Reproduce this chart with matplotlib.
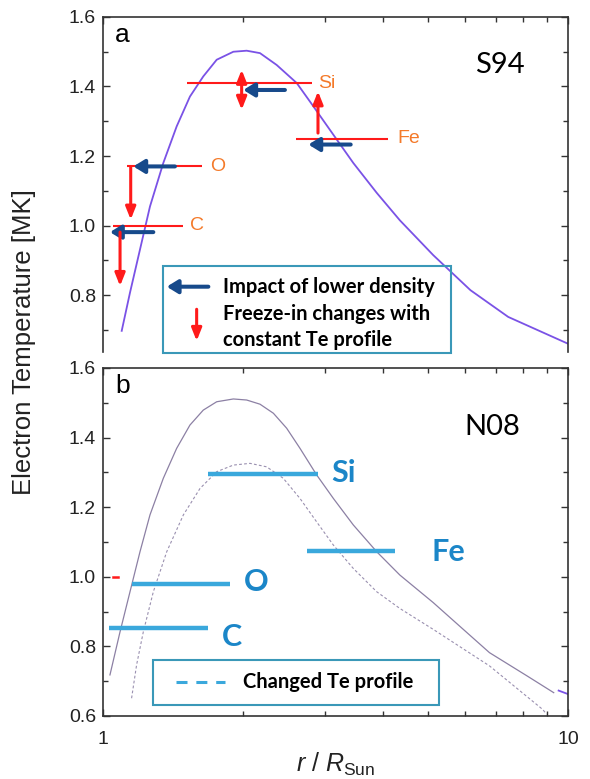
# Te profiles (S94 / N08) with freeze-in positions of C, O, Si, Fe
import matplotlib
matplotlib.use("Agg")
import matplotlib.pyplot as plt
from matplotlib.ticker import MultipleLocator, FuncFormatter, NullFormatter, LogLocator
from matplotlib.patches import Rectangle

plt.rcParams['font.family'] = ['Liberation Sans', 'DejaVu Sans']
plt.rcParams['mathtext.fontset'] = 'custom'
plt.rcParams['mathtext.rm'] = 'Liberation Sans'
plt.rcParams['mathtext.it'] = 'Liberation Sans:italic'

# --- panel a : S94 electron temperature profile ---
r_a = [1.097, 1.143, 1.201, 1.262, 1.348, 1.440, 1.538, 1.643, 1.756, 1.907, 2.037,
       2.176, 2.363, 2.61, 2.834, 3.13, 3.454, 3.879, 4.35, 5.13, 5.6, 6.17, 7.44, 10.0]
te_a = [0.697, 0.807, 0.931, 1.055, 1.180, 1.285, 1.371, 1.429, 1.477, 1.500, 1.503,
        1.496, 1.462, 1.410, 1.343, 1.261, 1.180, 1.094, 1.015, 0.915, 0.867, 0.814,
        0.737, 0.66]

# freeze-in levels (red lines) for panel a
el_a = ['C', 'O', 'Si', 'Fe']
el_a_r0 = [1.052, 1.124, 1.514, 2.60]
el_a_r1 = [1.489, 1.63, 2.815, 4.11]
el_a_te = [1.00, 1.170, 1.410, 1.249]
el_a_lab_r = [1.542, 1.699, 2.904, 4.29]

# blue arrows: impact of lower density (tail r, head r, Te)
dens_tail = [1.283, 1.428, 2.462, 3.41]
dens_head = [1.035, 1.162, 2.003, 2.765]
dens_te = [0.981, 1.170, 1.390, 1.233]

# red arrows: freeze-in changes (r, Te start, Te end)
frz_r = [1.088, 1.147, 2.90]
frz_t0 = [0.981, 1.170, 1.266]
frz_t1 = [0.826, 1.017, 1.386]
si_dbl_r = 1.987
si_dbl_te = (1.333, 1.448)

# --- panel b : N08 profile and changed profile ---
r_b = [1.035, 1.088, 1.143, 1.201, 1.262, 1.348, 1.440, 1.538, 1.643, 1.756, 1.907,
       2.037, 2.176, 2.325, 2.483, 2.653, 2.88, 3.13, 3.454, 3.879, 4.35, 5.13, 5.84,
       6.78, 8.17, 9.32]
te_b = [0.718, 0.842, 0.957, 1.072, 1.178, 1.283, 1.369, 1.436, 1.479, 1.503, 1.511,
        1.508, 1.496, 1.470, 1.427, 1.369, 1.293, 1.225, 1.149, 1.072, 1.005, 0.926,
        0.859, 0.782, 0.715, 0.667]
r_bc = [1.152, 1.181, 1.221, 1.283, 1.371, 1.489, 1.617, 1.756, 1.907, 2.071, 2.249,
        2.442, 2.653, 2.88, 3.13, 3.454, 3.879, 4.35, 5.13, 6.78, 8.82, 9.0]
te_bc = [0.651, 0.747, 0.842, 0.957, 1.072, 1.178, 1.254, 1.302, 1.321, 1.326, 1.316,
         1.283, 1.225, 1.158, 1.091, 1.024, 0.957, 0.909, 0.849, 0.744, 0.619, 0.605]

el_b = ['C', 'O', 'Si', 'Fe']
el_b_r0 = [1.032, 1.152, 1.685, 2.75]
el_b_r1 = [1.685, 1.876, 2.904, 4.25]
el_b_te = [0.854, 0.979, 1.295, 1.074]
el_b_lab_r = [1.80, 2.01, 3.10, 5.08]
el_b_lab_te = [0.828, 0.986, 1.297, 1.07]

RED = '#ff1a1a'
ORANGE = '#f47a2a'
NAVY = '#174a8b'
PURPLE = '#7a52e6'
LBLUE = '#3aa8dc'
TBLUE = '#1b86c8'
BOX = '#3a98b8'
SPINE = '#333333'

fig = plt.figure(figsize=(5.9, 7.79), dpi=100)
ax1 = fig.add_axes([0.1746, 0.5481, 0.788, 0.4301])
ax2 = fig.add_axes([0.1746, 0.0809, 0.788, 0.4467])

for ax in (ax1, ax2):
    ax.set_xscale('log')
    ax.set_xlim(1, 10)
    ax.yaxis.set_major_locator(MultipleLocator(0.2))
    ax.yaxis.set_minor_locator(MultipleLocator(0.1))
    ax.yaxis.set_major_formatter(FuncFormatter(lambda v, p: '%.1f' % v))
    ax.xaxis.set_major_locator(LogLocator(base=10, numticks=5))
    ax.xaxis.set_minor_locator(LogLocator(base=10, subs=range(2, 10), numticks=20))
    ax.xaxis.set_major_formatter(FuncFormatter(lambda v, p: '%g' % v))
    ax.xaxis.set_minor_formatter(NullFormatter())
    ax.tick_params(which='both', direction='in', top=True, right=True,
                   color=SPINE, width=1.0, labelsize=14, labelcolor='#222222')
    ax.tick_params(which='major', length=5)
    ax.tick_params(which='minor', length=3.5)
    ax.tick_params(axis='y', pad=5)
    ax.tick_params(axis='x', pad=11)
    for s in ax.spines.values():
        s.set_color(SPINE)
        s.set_linewidth(1.2)

blue_arrow = dict(arrowstyle='-|>,head_width=0.4,head_length=0.65', color=NAVY,
                  lw=2.9, shrinkA=0, shrinkB=0, mutation_scale=10)
red_arrow = dict(arrowstyle='-|>,head_width=0.3,head_length=0.75', color=RED,
                 lw=2.2, shrinkA=0, shrinkB=0, mutation_scale=10)

# panel a
ax1.set_ylim(0.636, 1.6)
ax1.spines['bottom'].set_visible(False)
ax1.tick_params(which='both', bottom=False, labelbottom=False)
ax1.plot(r_a, te_a, color=PURPLE, lw=1.3)

for name, r0, r1, te, lr in zip(el_a, el_a_r0, el_a_r1, el_a_te, el_a_lab_r):
    ax1.plot([r0, r1], [te, te], color=RED, lw=1.5, solid_capstyle='butt')
    ax1.text(lr, te, name, color=ORANGE, fontsize=14, va='center', ha='left')

for rt, rh, te in zip(dens_tail, dens_head, dens_te):
    ax1.annotate('', xy=(rh, te), xytext=(rt, te), arrowprops=blue_arrow)

for r, t0, t1 in zip(frz_r, frz_t0, frz_t1):
    ax1.annotate('', xy=(r, t1), xytext=(r, t0), arrowprops=red_arrow)
ax1.annotate('', xy=(si_dbl_r, si_dbl_te[1]), xytext=(si_dbl_r, si_dbl_te[0]),
             arrowprops=dict(red_arrow, arrowstyle='<|-|>,head_width=0.3,head_length=0.75'))

ax1.text(0.026, 0.945, 'a', transform=ax1.transAxes, fontsize=19, va='center')
ax1.text(0.80, 0.857, 'S94', transform=ax1.transAxes, fontsize=21,
         family=['Lato', 'DejaVu Sans'], va='center')

# legend box panel a
ax1.add_patch(Rectangle((0.1297, -0.004), 0.618, 0.262, transform=ax1.transAxes,
                        fill=False, edgecolor=BOX, lw=1.5, clip_on=False, zorder=5))
ax1.annotate('', xy=(1.371, 0.824), xytext=(1.685, 0.824), arrowprops=blue_arrow)
ax1.annotate('', xy=(1.590, 0.668), xytext=(1.590, 0.759), arrowprops=red_arrow)
leg_font = dict(family=['Lato', 'DejaVu Sans'], fontweight='bold', fontsize=14.5,
                va='center', ha='left')
ax1.text(1.808, 0.822, 'Impact of lower density', **leg_font)
ax1.text(1.808, 0.746, 'Freeze-in changes with', **leg_font)
ax1.text(1.808, 0.670, 'constant Te profile', **leg_font)

# panel b
ax2.set_ylim(0.6, 1.6)
ax2.plot(r_b, te_b, color='#8c80a4', lw=0.9)
ax2.plot(r_bc, te_bc, color='#9a90b0', lw=0.8, ls=(0, (2.5, 2)))
ax2.plot([9.55, 10.0], [0.673, 0.663], color=PURPLE, lw=1.3)
ax2.plot([1.051, 1.077], [1.0, 1.0], color=RED, lw=1.8)

for name, r0, r1, te, lr, lt in zip(el_b, el_b_r0, el_b_r1, el_b_te, el_b_lab_r, el_b_lab_te):
    ax2.plot([r0, r1], [te, te], color=LBLUE, lw=3.2, solid_capstyle='butt')
    ax2.text(lr, lt, name, color=TBLUE, fontsize=22, fontweight='bold',
             family=['Lato', 'DejaVu Sans'], va='center', ha='left')

ax2.text(0.026, 0.948, 'b', transform=ax2.transAxes, fontsize=19, va='center')
ax2.text(0.778, 0.83, 'N08', transform=ax2.transAxes, fontsize=21,
         family=['Lato', 'DejaVu Sans'], va='center')

ax2.add_patch(Rectangle((0.1083, 0.032), 0.615, 0.129, transform=ax2.transAxes,
                        fill=False, edgecolor=BOX, lw=1.5, zorder=5))
ax2.plot([1.435, 1.83], [0.698, 0.698], color=LBLUE, lw=2.2, ls=(0, (3.6, 2.9)))
ax2.text(2.0, 0.698, 'Changed Te profile', **leg_font)

ax2.set_xlabel(r'$r$ / $R_{\mathrm{Sun}}$', fontsize=18, labelpad=2, color='#222222')
fig.text(0.04, 0.561, 'Electron Temperature [MK]', rotation=90, fontsize=18.5,
         va='center', ha='center', color='#222222')

fig.savefig('out.png', dpi=100)
